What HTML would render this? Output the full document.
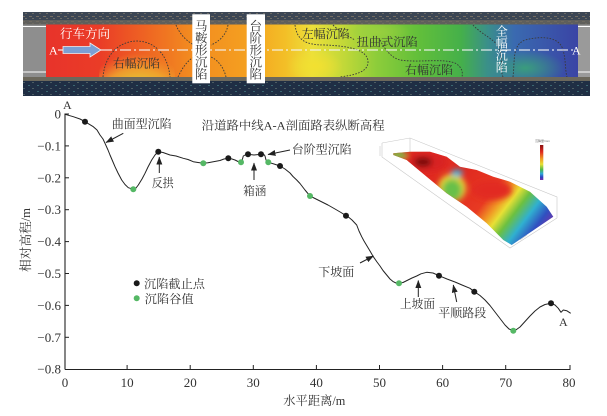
<!DOCTYPE html>
<html><head><meta charset="utf-8"><style>
html,body{margin:0;padding:0;background:#fff;}
svg{display:block;}
.t{font-family:"Liberation Serif","Noto Serif CJK SC",serif;fill:#333;}
</style></head><body>
<svg width="607" height="416" viewBox="0 0 607 416" xmlns="http://www.w3.org/2000/svg">
<defs>
<linearGradient id="heat" x1="46" y1="0" x2="578" y2="0" gradientUnits="userSpaceOnUse">
<stop offset="0" stop-color="#e8332b"/>
<stop offset="0.1" stop-color="#ea3c27"/>
<stop offset="0.2" stop-color="#ef6a22"/>
<stop offset="0.27" stop-color="#f28a20"/>
<stop offset="0.38" stop-color="#f4a020"/>
<stop offset="0.45" stop-color="#f3bf27"/>
<stop offset="0.5" stop-color="#ece03a"/>
<stop offset="0.56" stop-color="#c2d838"/>
<stop offset="0.62" stop-color="#8ecd3a"/>
<stop offset="0.7" stop-color="#62bf3a"/>
<stop offset="0.78" stop-color="#45b04a"/>
<stop offset="0.83" stop-color="#3a8f8a"/>
<stop offset="0.88" stop-color="#3a6ab0"/>
<stop offset="1" stop-color="#3a44a5"/>
</linearGradient>
<radialGradient id="bub" cx="0.5" cy="1" r="0.8">
<stop offset="0" stop-color="#b4d648" stop-opacity="1"/>
<stop offset="0.45" stop-color="#dcd83a" stop-opacity="1"/>
<stop offset="0.75" stop-color="#f0b830" stop-opacity="0.7"/>
<stop offset="1" stop-color="#f0a030" stop-opacity="0"/>
</radialGradient>
<radialGradient id="yel" cx="0.5" cy="0.5" r="0.5">
<stop offset="0" stop-color="#f2e030" stop-opacity="1"/>
<stop offset="1" stop-color="#f2e030" stop-opacity="0"/>
</radialGradient>
<radialGradient id="teal" cx="0.5" cy="0.5" r="0.5">
<stop offset="0" stop-color="#3aa07a" stop-opacity="0.95"/>
<stop offset="1" stop-color="#3aa07a" stop-opacity="0"/>
</radialGradient>
<radialGradient id="lgreen" cx="0.5" cy="0.5" r="0.5">
<stop offset="0" stop-color="#9ad040" stop-opacity="0.9"/>
<stop offset="1" stop-color="#9ad040" stop-opacity="0"/>
</radialGradient>
<pattern id="speck" width="9" height="6" patternUnits="userSpaceOnUse">
<rect x="1" y="1" width="2" height="1" fill="#4f8e90" opacity="0.6"/>
<rect x="5" y="4" width="2" height="1" fill="#7a8a80" opacity="0.5"/>
</pattern>
<pattern id="speck2" width="7" height="5" patternUnits="userSpaceOnUse">
<rect x="1" y="1" width="3" height="1" fill="#8a7e6a" opacity="0.7"/>
<rect x="4" y="3" width="2" height="1" fill="#9a9078" opacity="0.5"/>
</pattern>
<linearGradient id="surf" x1="465" y1="175" x2="548" y2="238" gradientUnits="userSpaceOnUse">
<stop offset="0" stop-color="#e02a20"/>
<stop offset="0.3" stop-color="#e83a22"/>
<stop offset="0.42" stop-color="#f09a25"/>
<stop offset="0.5" stop-color="#e8e035"/>
<stop offset="0.6" stop-color="#6cc040"/>
<stop offset="0.72" stop-color="#30b0d0"/>
<stop offset="0.84" stop-color="#3050c0"/>
<stop offset="0.96" stop-color="#7a30a8"/>
</linearGradient>
<linearGradient id="cbar" x1="0" y1="0" x2="0" y2="1">
<stop offset="0" stop-color="#8a1010"/>
<stop offset="0.2" stop-color="#e02a20"/>
<stop offset="0.4" stop-color="#f0a025"/>
<stop offset="0.55" stop-color="#e8e035"/>
<stop offset="0.7" stop-color="#50b848"/>
<stop offset="0.82" stop-color="#30a8d8"/>
<stop offset="0.92" stop-color="#3040c0"/>
<stop offset="1" stop-color="#7a30a8"/>
</linearGradient>
<clipPath id="sclip">
<polygon points="393.3,153.3 410,151.7 430,151.7 446.7,156.7 460,166.7 476.7,170 493.3,176.7 510,181.7 530,191.7 546.7,206.7 553.3,216.7 511.7,245 503.3,240 486.7,223.3 466.7,206.7 446.7,193.3 426.7,176.7 406.7,160 393.3,155"/>
</clipPath>
<clipPath id="hclip"><rect x="46" y="24.5" width="532" height="52.5"/></clipPath>
<filter id="blur" x="-50%" y="-50%" width="200%" height="200%"><feGaussianBlur stdDeviation="3"/></filter>
<marker id="ah" markerWidth="8" markerHeight="6" refX="7.5" refY="3" orient="auto" markerUnits="userSpaceOnUse">
<path d="M0,0 L8,3 L0,6 z" fill="#222"/>
</marker>
</defs>

<!-- ===== top aerial image ===== -->
<rect x="23" y="12" width="567" height="13" fill="#3c4654"/>
<rect x="23" y="12" width="567" height="13" fill="url(#speck2)"/>
<rect x="23" y="20" width="567" height="5" fill="#6e6a60" opacity="0.7"/>
<rect x="23" y="77" width="567" height="19" fill="#1f2e44"/>
<rect x="23" y="77" width="567" height="19" fill="url(#speck)"/>
<rect x="23" y="77" width="567" height="4" fill="#6c685c"/>
<rect x="23" y="24.5" width="23" height="52.5" fill="#8e8e8e"/>
<rect x="578" y="24.5" width="12" height="52.5" fill="#9a9a9a"/>
<line x1="23" y1="26.5" x2="46" y2="26.5" stroke="#fff" stroke-width="1"/>
<line x1="23" y1="72" x2="46" y2="72" stroke="#fff" stroke-width="1"/>
<line x1="578" y1="26.5" x2="590" y2="26.5" stroke="#fff" stroke-width="1"/>
<line x1="578" y1="72" x2="590" y2="72" stroke="#fff" stroke-width="1"/>
<rect x="46" y="24.5" width="532" height="52.5" fill="url(#heat)"/>
<g clip-path="url(#hclip)">
<ellipse cx="137" cy="77" rx="38" ry="40" fill="url(#bub)"/>
<ellipse cx="315" cy="66" rx="28" ry="16" fill="url(#yel)"/>
<ellipse cx="375" cy="32" rx="35" ry="12" fill="url(#lgreen)"/>
<ellipse cx="525" cy="68" rx="40" ry="18" fill="url(#teal)"/>
</g>
<g fill="none" stroke="#3a3a3a" stroke-width="0.9" stroke-dasharray="1.6,1.4" clip-path="url(#hclip)">
<path d="M103,77 C105,55 118,42 136,41 C155,41 168,55 170,77"/>
<path d="M176,25 C180,35 188,42 194,45"/>
<path d="M178,77 C182,68 188,60 194,57"/>
<path d="M228,25 C226,36 218,42 211,45"/>
<path d="M226,77 C224,68 218,60 211,57"/>
<path d="M295,25 C297,40 305,45 325,45 C350,46 368,50 368,62 C368,72 355,75 340,77"/>
<path d="M333,25 C340,32 348,36 355,40"/>
<path d="M380,40 C385,50 392,58 400,60 C420,63 440,58 455,63 C462,67 463,72 462,77"/>
<path d="M473,25 C482,35 497,40 500,50 C503,60 500,70 503,77"/>
<path d="M513,77 C515,60 512,45 525,40 C545,35 560,38 563,50 C566,60 565,70 567,77"/>
</g>
<line x1="101" y1="50" x2="575" y2="50" stroke="#f4f4f4" stroke-width="1.2" stroke-dasharray="11,3,2,3" opacity="0.9"/>
<line x1="58" y1="50" x2="63" y2="50" stroke="#f4f4f4" stroke-width="1.2"/>
<polygon points="63,46.5 90,46.5 90,43 101,50 90,57 90,53.5 63,53.5" fill="#7b9fd4" stroke="#f0f0f0" stroke-width="0.8"/>
<text x="49" y="54.5" font-family="Liberation Serif,serif" font-size="12" fill="#fff">A</text>
<text x="572" y="54.5" font-family="Liberation Serif,serif" font-size="12" fill="#fff">A</text>
<text x="60" y="38" font-family="Liberation Serif,'Noto Serif CJK SC',serif" font-size="12.5" fill="#fff" textLength="50" lengthAdjust="spacingAndGlyphs">行车方向</text>
<text x="113" y="67.5" class="t" font-size="12" textLength="47" lengthAdjust="spacingAndGlyphs">右幅沉陷</text>
<text x="301.7" y="38" class="t" font-size="12" textLength="48" lengthAdjust="spacingAndGlyphs">左幅沉陷</text>
<text x="356.7" y="46" class="t" font-size="12" textLength="61" lengthAdjust="spacingAndGlyphs">扭曲式沉陷</text>
<text x="405" y="74" class="t" font-size="12" textLength="48" lengthAdjust="spacingAndGlyphs">右幅沉陷</text>
<rect x="192.3" y="14.3" width="17.7" height="69" fill="#fff"/>
<rect x="246.7" y="14.3" width="18.3" height="69" fill="#fff"/>
<g class="t" font-size="12.5" text-anchor="middle">
<text x="201.2" y="30.5">马</text><text x="201.2" y="42.5">鞍</text><text x="201.2" y="54.5">形</text><text x="201.2" y="66.5">沉</text><text x="201.2" y="78.5">陷</text>
<text x="255.8" y="30.5">台</text><text x="255.8" y="42.5">阶</text><text x="255.8" y="54.5">形</text><text x="255.8" y="66.5">沉</text><text x="255.8" y="78.5">陷</text>
</g>
<g font-family="Liberation Serif,'Noto Serif CJK SC',serif" font-size="12" fill="#fff" text-anchor="middle">
<text x="501.7" y="35.5">全</text><text x="501.7" y="47.5">幅</text><text x="501.7" y="59.5">沉</text><text x="501.7" y="71.5">陷</text>
</g>

<!-- ===== 3D inset ===== -->
<g stroke="#c8c8c8" stroke-width="0.6" fill="none">
<path d="M382,143 L410,138 L557,197 L557,218"/>
<path d="M382,143 L382,157 L510,248 L557,218"/>
<path d="M410,138 L410,152"/>
</g>
<g clip-path="url(#sclip)">
<rect x="385" y="145" width="175" height="105" fill="url(#surf)"/>
<g filter="url(#blur)">
<ellipse cx="425" cy="162" rx="22" ry="10" fill="#d82420"/>
<ellipse cx="423" cy="162" rx="9" ry="5" fill="#7a1010"/>
<ellipse cx="398" cy="155" rx="9" ry="4" fill="#7cc44a"/>
<ellipse cx="452" cy="188" rx="14" ry="14" fill="#e8d838"/>
<ellipse cx="452" cy="190" rx="10" ry="11" fill="#68c048"/>
<ellipse cx="457" cy="173" rx="6" ry="3.5" fill="#30b0d8"/>
<ellipse cx="492" cy="190" rx="20" ry="10" fill="#e22c22"/>
</g>
</g>
<rect x="540" y="145" width="3.3" height="35" fill="url(#cbar)"/>
<text x="535" y="142" font-family="Liberation Sans,'Noto Sans CJK SC',sans-serif" font-size="3" fill="#666">沉降量/mm</text>
<g stroke="#bbb" stroke-width="0.5">
<line x1="380" y1="146" x2="380" y2="156"/>
<line x1="520" y1="240" x2="527" y2="235"/>
</g>

<!-- ===== chart ===== -->
<g stroke="#222" stroke-width="1.1" fill="none">
<line x1="65" y1="113.5" x2="65" y2="369.5"/>
<line x1="65" y1="369.5" x2="570.5" y2="369.5"/>
</g>
<g stroke="#222" stroke-width="1">
<line x1="65" y1="114" x2="69" y2="114"/>
<line x1="65" y1="145.9" x2="69" y2="145.9"/>
<line x1="65" y1="177.8" x2="69" y2="177.8"/>
<line x1="65" y1="209.7" x2="69" y2="209.7"/>
<line x1="65" y1="241.6" x2="69" y2="241.6"/>
<line x1="65" y1="273.5" x2="69" y2="273.5"/>
<line x1="65" y1="305.4" x2="69" y2="305.4"/>
<line x1="65" y1="337.3" x2="69" y2="337.3"/>
<line x1="127.1" y1="369.5" x2="127.1" y2="365"/>
<line x1="190.2" y1="369.5" x2="190.2" y2="365"/>
<line x1="253.3" y1="369.5" x2="253.3" y2="365"/>
<line x1="316.4" y1="369.5" x2="316.4" y2="365"/>
<line x1="379.5" y1="369.5" x2="379.5" y2="365"/>
<line x1="442.6" y1="369.5" x2="442.6" y2="365"/>
<line x1="505.7" y1="369.5" x2="505.7" y2="365"/>
<line x1="570" y1="369.5" x2="570" y2="365"/>
</g>
<g class="t" font-size="13" text-anchor="end">
<text x="61" y="118.5">0</text>
<text x="61" y="150.4">−0.1</text>
<text x="61" y="182.3">−0.2</text>
<text x="61" y="214.2">−0.3</text>
<text x="61" y="246.1">−0.4</text>
<text x="61" y="278">−0.5</text>
<text x="61" y="309.9">−0.6</text>
<text x="61" y="341.8">−0.7</text>
<text x="61" y="373.7">−0.8</text>
</g>
<g class="t" font-size="13" text-anchor="middle">
<text x="65" y="387">0</text>
<text x="127.1" y="387">10</text>
<text x="190.2" y="387">20</text>
<text x="253.3" y="387">30</text>
<text x="316.4" y="387">40</text>
<text x="379.5" y="387">50</text>
<text x="442.6" y="387">60</text>
<text x="505.7" y="387">70</text>
<text x="569" y="387">80</text>
</g>
<text x="283.3" y="405" class="t" font-size="12.5" textLength="62" lengthAdjust="spacingAndGlyphs">水平距离/m</text>
<text transform="translate(29.8,240) rotate(-90)" class="t" font-size="12.5" text-anchor="middle" fill="#444" textLength="64" lengthAdjust="spacingAndGlyphs">相对高程/m</text>

<path fill="none" stroke="#222" stroke-width="1" stroke-linejoin="round" d="M65,114.3 L73.3,116.7 L80,119 L85,121.7 L93.3,126.7 L97,130 L100,135 L103,139 L105,143.3 L108,150 L110,155 L113,162 L115,166.7 L118,173 L121.7,180 L125,184.5 L128.3,187.7 L133.3,189.3 L136,188 L138.3,185 L142,179 L145,173.3 L148,167 L151.7,160 L155,155 L158.3,151.7 L163,152.5 L170,155 L176,156 L183.3,158.3 L188,159.5 L193.3,161.7 L198,162.5 L203.3,163.3 L208,162.8 L213.3,161.7 L220,160.5 L224,159 L228.3,158.3 L232,159 L235,160 L238,161.5 L241,162.3 L242.5,159 L243.3,156 L246,154.5 L248,154.3 L254,155 L261,154.3 L264,154.6 L265,156 L266,160 L268.3,162.3 L274,164 L280,166 L285,169 L290,173 L293,176.5 L296.7,180 L300,183.5 L305,190 L310,196 L315,198.5 L320,201 L328,205 L335,209 L341,212.5 L346,215.7 L349,217.5 L352,220 L356.7,225 L359,231 L361.7,236.7 L364,241 L367,246 L370,251 L373.3,256.7 L377,262 L380,266 L383,270.5 L386.7,275 L390,279 L393.3,281.7 L396,283 L399,283.3 L403,282.5 L408,280 L412,278 L416.7,276 L421,273.8 L426.7,272.3 L433,273 L439,275.7 L447,279 L455,282 L462,285 L470,288.3 L474.3,291.7 L480,295.5 L485,300 L490,305.5 L495,312 L500,318.5 L505,325 L509,329 L513.3,330.7 L516.5,329.5 L520,327 L525,321.5 L530,316 L535,311 L540,307 L545,304.5 L551,303.3 L555,305 L558.3,308.3 L561,312.3 L563.3,310 L566.7,310.7 L570.7,313.3"/>

<g fill="#1a1a1a">
<circle cx="85" cy="121.7" r="3"/>
<circle cx="158.3" cy="151.7" r="3"/>
<circle cx="228.3" cy="158.3" r="3"/>
<circle cx="248" cy="154.3" r="3"/>
<circle cx="261" cy="154.3" r="3"/>
<circle cx="280" cy="166" r="3"/>
<circle cx="346" cy="215.7" r="3"/>
<circle cx="439" cy="275.7" r="3"/>
<circle cx="474.3" cy="291.7" r="3"/>
<circle cx="551" cy="303.3" r="3"/>
</g>
<g fill="#55b865">
<circle cx="133.3" cy="189.3" r="3"/>
<circle cx="203.3" cy="163.3" r="3"/>
<circle cx="241" cy="162.3" r="3"/>
<circle cx="268.3" cy="162.3" r="3"/>
<circle cx="310" cy="196" r="3"/>
<circle cx="399" cy="283.3" r="3"/>
<circle cx="513.3" cy="330.7" r="3"/>
</g>

<g stroke="#222" stroke-width="1" marker-end="url(#ah)">
<line x1="123.3" y1="133.3" x2="106" y2="142.5"/>
<line x1="159.3" y1="173" x2="159.3" y2="157"/>
<line x1="290" y1="150" x2="268" y2="154.5"/>
<line x1="254" y1="180" x2="254" y2="163"/>
<line x1="360" y1="263" x2="373.5" y2="256"/>
<line x1="418.3" y1="297" x2="418.3" y2="280.5"/>
<line x1="456.7" y1="302" x2="453.3" y2="285"/>
</g>

<text x="63" y="109" class="t" font-size="12">A</text>
<text x="559" y="326" class="t" font-size="12">A</text>
<text x="111.7" y="127.8" class="t" font-size="12" textLength="60" lengthAdjust="spacingAndGlyphs">曲面型沉陷</text>
<text x="151.7" y="187" class="t" font-size="12" textLength="22" lengthAdjust="spacingAndGlyphs">反拱</text>
<text x="201.7" y="129.5" class="t" font-size="12" textLength="183" lengthAdjust="spacingAndGlyphs">沿道路中线A-A剖面路表纵断高程</text>
<text x="291.7" y="153.5" class="t" font-size="12" textLength="60" lengthAdjust="spacingAndGlyphs">台阶型沉陷</text>
<text x="243.3" y="195" class="t" font-size="12" textLength="23" lengthAdjust="spacingAndGlyphs">箱涵</text>
<text x="318.3" y="276" class="t" font-size="12" textLength="36" lengthAdjust="spacingAndGlyphs">下坡面</text>
<text x="400" y="308" class="t" font-size="12" textLength="35" lengthAdjust="spacingAndGlyphs">上坡面</text>
<text x="438.3" y="317" class="t" font-size="12" textLength="48" lengthAdjust="spacingAndGlyphs">平顺路段</text>

<circle cx="136.7" cy="283.3" r="3" fill="#1a1a1a"/>
<circle cx="136.7" cy="298.3" r="3" fill="#55b865"/>
<text x="144" y="287.8" class="t" font-size="12" textLength="61" lengthAdjust="spacingAndGlyphs">沉陷截止点</text>
<text x="144.7" y="302.8" class="t" font-size="12" textLength="49" lengthAdjust="spacingAndGlyphs">沉陷谷值</text>
</svg>
</body></html>
